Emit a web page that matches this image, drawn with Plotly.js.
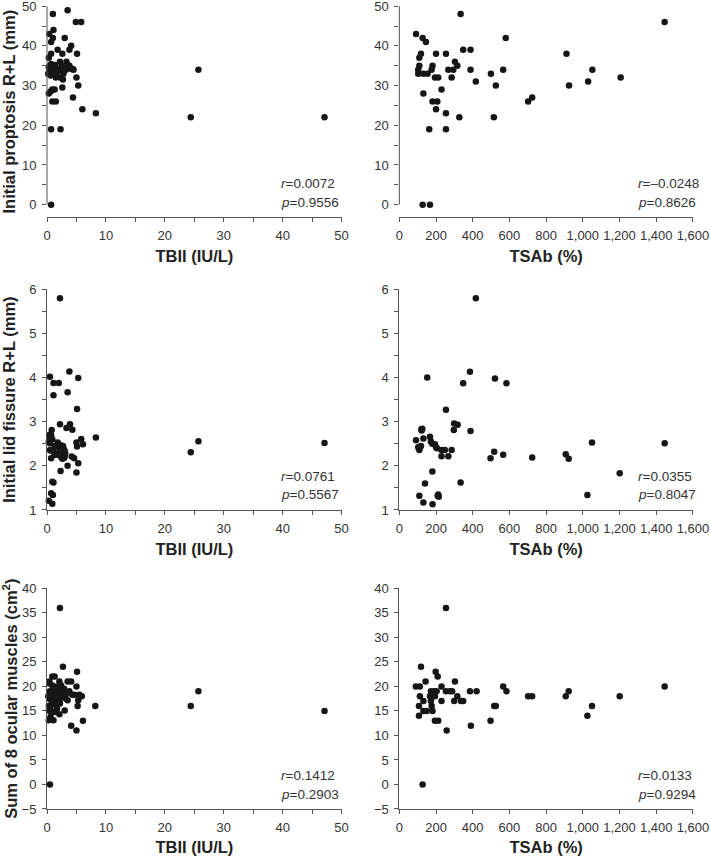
<!DOCTYPE html>
<html>
<head>
<meta charset="utf-8">
<script src="https://cdn.plot.ly/plotly-3.0.1.min.js"></script>
<style>html,body{margin:0;padding:0;background:#fff;}#chart{width:710px;height:856px;}</style>
</head>
<body>
<div id="chart"></div>
<script>
// ---- Data ----
// Panel A: TBII vs initial proptosis
const tbiiProptosisX = [1.0,3.5,4.9,5.8,1.1,0.4,1.0,0.7,3.0,4.1,3.8,1.8,2.6,5.1,0.7,0.3,
  0.7,1.4,2.2,3.3,3.5,4.1,2.4,1.3,0.4,1.0,1.8,3.0,4.4,0.3,0.6,
  0.5,0.8,1.2,1.5,2.0,2.5,2.8,3.2,3.8,4.5,0.2,1.1,
  2.2,2.7,5.0,2.6,5.3,0.9,0.6,1.3,0.3,4.4,0.9,1.5,6.0,8.3,0.7,2.3,0.7,24.4,25.7,47.1];
const tbiiProptosisY = [48,49,46,46,44,43,42,41,42,40,39,39,38,38,38,37,
  35.4,35.2,36,36,35.2,34.2,34.2,34.2,33.8,33.3,33.5,34.2,34.2,34.6,32.5,
  35,34,33,32,34,35,33,34,35,34,33,35,
  32,31.5,32,29.5,30,29,28.5,29,28,27,26,26,24,23,19,19,0,22,34,22];

// Panel B: TSAb vs initial proptosis
const tsabProptosisX = [334,91,127,145,580,348,388,200,254,118,109,303,316,109,103,181,267,294,388,566,
  499,103,131,154,176,194,212,285,417,526,230,131,181,207,200,254,327,515,163,254,
  127,167,702,724,911,925,1029,1052,1206,1446];
const tsabProptosisY = [48,43,42,41,42,39,39,38,38,38,37,36,35,35,34,35,34,34,34,34,
  33,33,33,33,34,32,32,32,31,30,29,28,26,26,24,23,22,22,19,19,
  0,0,26,27,38,30,31,34,32,46];

// Panel C: TBII vs initial lid fissure
const tbiiFissureX = [2.2,0.5,1.1,2.0,3.8,5.3,3.5,1.1,5.1,2.2,3.9,3.3,4.3,0.8,0.7,5.8,8.3,6.1,0.4,0.5,
  1.8,2.4,5.0,5.1,2.8,3.0,2.0,0.5,1.0,1.4,0.7,2.6,3.0,4.2,4.6,3.5,5.3,2.3,5.0,1.1,
  0.9,0.7,1.0,0.3,0.9,24.4,25.7,47.1,
  0.3,0.6,1.2,1.6,1.9,2.2,2.5,2.7,3.1,2.9,1.3,0.4,0.9,2.4];
const tbiiFissureY = [5.8,4.02,3.88,3.88,4.14,3.99,3.67,3.6,3.29,2.94,2.94,2.86,2.82,2.81,2.7,2.61,2.64,2.49,2.59,2.51,
  2.53,2.46,2.53,2.44,2.40,2.34,2.42,2.36,2.36,2.25,2.17,2.16,2.21,2.21,2.17,2.0,2.06,1.88,1.85,1.62,
  1.64,1.38,1.34,1.21,1.14,2.31,2.56,2.52,
  2.55,2.35,2.3,2.25,2.5,2.35,2.3,2.45,2.28,2.18,2.45,2.7,2.6,2.2];

// Panel D: TSAb vs initial lid fissure
const tsabFissureX = [417,152,385,521,348,584,254,299,318,125,122,297,388,131,91,167,172,194,200,103,
  109,230,248,285,230,267,180,140,334,109,212,209,131,181,517,497,566,724,907,923,
  1050,1446,1201,1025,118,205,180,120,215,110];
const tsabFissureY = [5.8,4.0,4.13,3.98,3.87,3.87,3.27,2.96,2.93,2.84,2.8,2.81,2.79,2.62,2.58,2.66,2.55,2.49,2.42,2.42,
  2.36,2.36,2.36,2.36,2.22,2.22,1.87,1.6,1.62,1.32,1.35,1.32,1.17,1.13,2.32,2.17,2.25,2.19,2.26,2.16,
  2.53,2.51,1.83,1.34,2.45,2.4,2.5,2.83,1.3,2.4];

// Panel E: TBII vs sum of 8 ocular muscles
const tbiiMuscleX = [2.2,2.7,5.1,0.9,1.3,2.1,3.5,4.1,5.0,0.4,0.9,2.4,3.8,4.7,5.5,1.0,1.8,2.7,0.4,1.4,
  2.2,3.5,5.3,5.9,8.2,5.2,0.7,1.5,2.2,0.3,1.3,3.0,2.1,0.6,1.1,0.3,6.1,4.1,5.0,0.5,
  24.4,25.7,47.1,
  0.2,0.5,0.8,1.1,1.6,1.9,2.5,2.9,3.2,0.3,0.7,1.7,2.3,3.3,4.3,0.4,1.2];
const tbiiMuscleY = [36,24,23,22,22,21,21,21,20,20.6,20.2,20.2,19,18.3,18.3,19,19,19,17.5,17.2,
  17.5,17.2,17.2,18,16,16,16.2,16.2,16.5,15.1,14.8,15.1,14.3,13.8,13.1,13.1,13,12,11,0,
  16,19,15,
  18,19,17,18,18.5,20,18,19.5,17.5,16,15,15.5,19,18.5,18.3,21,20];

// Panel F: TSAb vs sum of 8 ocular muscles
const tsabMuscleX = [254,118,198,209,303,90,112,143,230,566,584,172,190,203,254,276,288,385,421,112,
  167,194,316,230,299,336,348,131,172,107,176,517,526,131,149,181,107,194,212,497,
  390,258,127,702,724,907,923,1025,1050,1201,1446];
const tsabMuscleY = [36,24,23,22,21,20,20,21,20,20,19,19,19,19,19,19,19,19,19,18,
  18,18,18,17,17,17,17,17,17,16,16,16,16,15,15,15,14,13,13,13,
  12,11,0,18,18,18,19,14,16,18,20];

// Axis titles and statistics
const xTitles = ['TBII (IU/L)', 'TSAb (%)'];
const yTitles = ['Initial proptosis R+L (mm)', 'Initial lid fissure R+L (mm)', 'Sum of 8 ocular muscles (cm<sup>2</sup>)'];
const rValues = ['0.0072', '\u20130.0248', '0.0761', '0.0355', '0.1412', '0.0133'];
const pValues = ['0.9556', '0.8626', '0.5567', '0.8047', '0.2903', '0.9294'];

// ---- Traces ----
const series = [
  [tbiiProptosisX, tbiiProptosisY],
  [tsabProptosisX, tsabProptosisY],
  [tbiiFissureX, tbiiFissureY],
  [tsabFissureX, tsabFissureY],
  [tbiiMuscleX, tbiiMuscleY],
  [tsabMuscleX, tsabMuscleY]
];
const traces = series.map((s, i) => ({
  type: 'scatter', mode: 'markers',
  x: s[0], y: s[1],
  xaxis: i === 0 ? 'x' : 'x' + (i + 1),
  yaxis: i === 0 ? 'y' : 'y' + (i + 1),
  marker: {size: 6.5, color: '#161616'},
  cliponaxis: false,
  hoverinfo: 'x+y'
}));

// ---- Layout ----
const AX = '#555';
const tickFont = {size: 13, color: '#333'};
const titleFont = {size: 16.5, color: '#222', weight: 'bold'};
const colDomains = [[0, 0.4562], [0.5454, 1]];
const rowDomains = [[0.7359, 0.9988], [0.3719, 0.6464], [0, 0.2745]];
const yRanges = [[-3.2, 50.05], [0.999, 6.002], [-5.01, 40.02]];
const yDticks = [10, 1, 5];
const yMinor = [5, 0.5, null];
const yStandoff = [8, 15, 8];

const layout = {
  width: 710, height: 856,
  margin: {l: 47, r: 17, t: 5, b: 47},
  paper_bgcolor: '#fff', plot_bgcolor: '#fff',
  showlegend: false,
  font: {family: 'Arial, "Liberation Sans", sans-serif', color: '#333'},
  shapes: [], annotations: []
};

for (let i = 0; i < 6; i++) {
  const row = Math.floor(i / 2), col = i % 2;
  const xn = i === 0 ? 'xaxis' : 'xaxis' + (i + 1);
  const yn = i === 0 ? 'yaxis' : 'yaxis' + (i + 1);
  const xid = i === 0 ? 'x' : 'x' + (i + 1);
  const yid = i === 0 ? 'y' : 'y' + (i + 1);
  const xa = {
    domain: colDomains[col], anchor: yid,
    range: col === 0 ? [0, 50.02] : [0, 1600.5],
    dtick: col === 0 ? 10 : 200, tick0: 0,
    showline: true, linecolor: AX, linewidth: 1,
    ticks: 'outside', ticklen: 4, tickcolor: AX, tickwidth: 1,
    tickfont: tickFont, ticklabelstandoff: 2, ticklabeloverflow: 'allow',
    showgrid: false, zeroline: false,
    title: {text: xTitles[col], font: titleFont, standoff: 8}
  };
  if (col === 0) xa.minor = {dtick: 5, tick0: 0, ticks: 'outside', ticklen: 4, tickcolor: AX, tickwidth: 1, showgrid: false};
  else xa.tickformat = ',';
  const ya = {
    domain: rowDomains[row], anchor: xid,
    range: yRanges[row], dtick: yDticks[row], tick0: 0,
    showline: row !== 0, linecolor: AX, linewidth: 1,
    ticks: 'outside', ticklen: 4, tickcolor: AX, tickwidth: 1,
    tickfont: tickFont, ticklabelstandoff: 3, ticklabeloverflow: 'allow',
    showgrid: false, zeroline: false
  };
  if (yMinor[row]) ya.minor = {dtick: yMinor[row], tick0: 0, ticks: 'outside', ticklen: 4, tickcolor: AX, tickwidth: 1, showgrid: false};
  if (col === 0) ya.title = {text: yTitles[row], font: titleFont, standoff: yStandoff[row]};
  layout[xn] = xa;
  layout[yn] = ya;

  if (row === 0) {
    // detached y-axis line spanning 0..50
    layout.shapes.push({type: 'line', xref: xid + ' domain', x0: 0, x1: 0, yref: yid, y0: 0, y1: 50,
      line: {color: AX, width: 1}});
  }
  const ax = col === 0 ? 0.788 : 0.805;
  layout.annotations.push({xref: xid + ' domain', yref: yid + ' domain', x: ax, y: 0, yshift: 33.5,
    xanchor: 'left', yanchor: 'middle', showarrow: false, align: 'left',
    text: '<i>r</i>=' + rValues[i], font: {size: 13.5, color: '#333'}});
  layout.annotations.push({xref: xid + ' domain', yref: yid + ' domain', x: ax, y: 0, yshift: 15,
    xanchor: 'left', yanchor: 'middle', showarrow: false, align: 'left',
    text: '<i>p</i>=' + pValues[i], font: {size: 13.5, color: '#333'}});
}

Plotly.newPlot('chart', traces, layout, {displayModeBar: false, staticPlot: true});
</script>
</body>
</html>
